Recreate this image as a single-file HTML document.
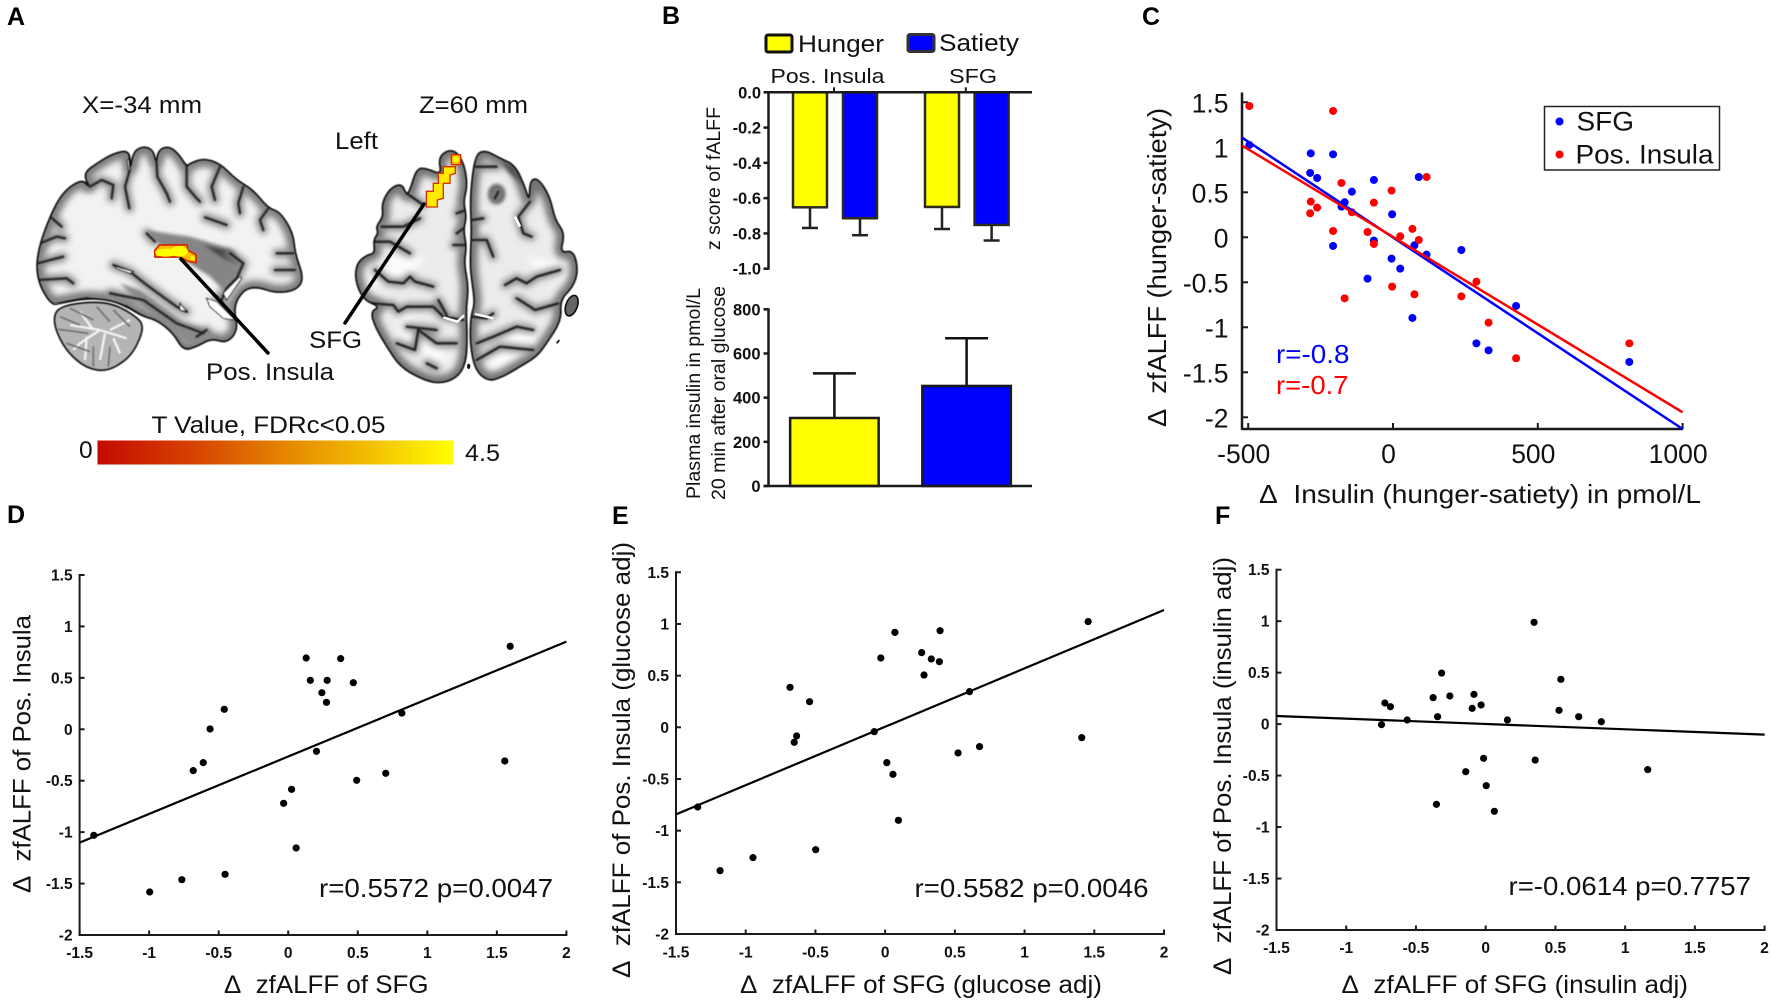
<!DOCTYPE html>
<html lang="en">
<head>
<meta charset="utf-8">
<title>Brain activation and insulin correlation figure</title>
<style>
html,body{margin:0;padding:0;background:#fff;width:1772px;height:1006px;overflow:hidden}
svg{display:block}
text{font-family:"Liberation Sans",Arial,sans-serif;fill:#111}
.pl{font-weight:bold;font-size:25px;fill:#000}
.a{font-size:24.5px}
.ti{font-size:25px}
.an{font-size:26px}
</style>
</head>
<body>
<svg id="fig" xmlns="http://www.w3.org/2000/svg" width="1772" height="1006" viewBox="0 0 1772 1006">
<defs>
<linearGradient id="heat" x1="0" x2="1" y1="0" y2="0">
<stop offset="0" stop-color="#c40a00"/><stop offset=".3" stop-color="#d84a00"/><stop offset=".55" stop-color="#e68c00"/><stop offset=".8" stop-color="#f4c800"/><stop offset="1" stop-color="#ffff00"/>
</linearGradient>
<filter id="b1" x="-10%" y="-10%" width="120%" height="120%"><feGaussianBlur stdDeviation="1.5"/></filter>
<filter id="b2" x="-10%" y="-10%" width="120%" height="120%"><feGaussianBlur stdDeviation="2.5"/></filter>
<filter id="b5" x="-40%" y="-40%" width="180%" height="180%"><feGaussianBlur stdDeviation="5"/></filter>
<filter id="b9" x="-20%" y="-20%" width="140%" height="140%"><feGaussianBlur stdDeviation="10"/></filter>

<polygon class="s" id="sagOutline" points="65,525 30,470 18,410 30,340 60,260 90,200 125,165 160,150 178,172 160,130 200,100 250,70 300,60 300,122 310,65 340,48 370,60 378,100 385,60 415,48 445,70 470,110 480,100 520,85 570,100 620,150 670,180 715,235 750,245 790,310 795,370 822,445 800,480 740,490 680,470 640,480 610,530 625,600 590,640 545,625 500,650 460,662 430,610 380,570 340,560 290,530 240,510 170,505 90,520"/>
<polygon class="s" id="cbOutline" points="70,560 90,530 170,515 250,520 320,560 342,590 320,650 290,690 230,725 170,715 115,670 80,610"/>
<polygon class="s" id="axLOutline" points="235,85 262,60 292,66 315,110 322,170 310,215 320,260 310,300 320,350 312,400 326,470 318,540 322,620 318,700 290,745 235,762 180,745 120,710 80,650 45,590 32,545 60,530 10,510 -15,450 -10,400 20,375 45,370 40,330 55,310 48,290 70,260 65,220 90,175 125,160 140,195 150,180 170,115 200,115 245,135"/>
<polygon class="s" id="axROutline" points="345,75 375,60 420,85 465,105 495,170 508,215 510,150 535,145 570,200 585,270 615,310 600,370 640,360 655,420 640,470 600,510 605,570 560,640 530,680 480,710 430,740 385,755 345,720 330,640 332,560 345,520 335,450 330,400 335,300 330,200"/>
<clipPath id="sagClip"><use href="#sagOutline"/></clipPath>
<clipPath id="cbClip"><use href="#cbOutline"/></clipPath>
<clipPath id="axLClip"><use href="#axLOutline"/></clipPath>
<clipPath id="axRClip"><use href="#axROutline"/></clipPath>

<g id="sagSulci" stroke-linejoin="round" stroke-linecap="round">
  <path d="M160,150 L180,170 L215,150 L250,165 L245,205"/>
  <path d="M300,65 L298,125 L285,170 L298,235"/>
  <path d="M378,70 L382,140 L410,190 L420,215"/>
  <path d="M470,105 L470,170 L500,205 L510,215"/>
  <path d="M570,110 L545,170 L555,210"/>
  <path d="M640,170 L625,220 L630,250"/>
  <path d="M715,235 L690,270 L700,300"/>
  <path d="M525,262 L590,285"/>
  <path d="M790,370 L740,370"/>
  <path d="M795,420 L735,420"/>
  <path d="M22,400 L100,380"/>
  <path d="M30,340 L80,320 L105,325"/>
  <path d="M25,450 L110,445 L130,460"/>
  <path d="M60,260 L95,290"/>
  <path d="M65,525 L170,505 L290,530 L345,565"/>
  <path d="M250,405 L300,425 L350,465 L440,530 L470,545"/>
  <path d="M240,490 L340,510 L440,580 L520,610"/>
  <path d="M500,620 L530,600"/>
  <path d="M350,310 L375,335"/>
  <path d="M600,370 L640,400 L620,445 L590,475 L575,510"/>
  <path d="M560,500 L610,560"/>
</g>
<g id="axSulci" stroke-linejoin="round" stroke-linecap="round">
  <path d="M65,290 L130,290 L180,265"/>
  <path d="M140,190 L190,225"/>
  <path d="M40,335 L90,335 L150,370"/>
  <path d="M45,420 L85,455 L130,460 L150,440 L165,455 L220,470"/>
  <path d="M30,520 L100,525 L115,545 L140,530 L220,530 L250,560 L310,570"/>
  <path d="M110,640 L165,660 L175,600 L230,640 L290,640"/>
  <path d="M140,590 L230,600"/>
  <path d="M200,700 L230,715"/>
  <path d="M235,510 L260,555"/>
  <path d="M318,240 L290,250"/>
  <path d="M318,290 L290,310"/>
  <path d="M318,345 L280,345"/>
  <path d="M345,110 L410,110"/>
  <path d="M415,185 L405,205"/>
  <path d="M510,215 L475,260 L490,310 L515,320"/>
  <path d="M335,270 L370,265"/>
  <path d="M335,330 L380,330 L400,380"/>
  <path d="M600,420 L530,440 L500,460 L470,445 L435,465"/>
  <path d="M470,505 L510,530 L525,540 L595,520"/>
  <path d="M335,560 L380,565 L400,550"/>
  <path d="M350,640 L400,620 L470,590 L520,600"/>
  <path d="M350,690 L420,650 L520,660"/>
</g>
</defs>
<rect x="0" y="0" width="1772" height="1006" fill="#fff"/>

<text class="pl" x="7" y="25">A</text>
<text class="pl" x="662" y="24">B</text>
<text class="pl" x="1142" y="25">C</text>
<text class="pl" x="7" y="523">D</text>
<text class="pl" x="612" y="524">E</text>
<text class="pl" x="1215" y="524">F</text>

<!-- Panel A -->
<g transform="translate(30,130) scale(.3333)">
  <use href="#cbOutline" fill="#b4b4b4"/>
  <g clip-path="url(#cbClip)">
    <g fill="none" stroke="#f4f4f4" stroke-width="7" filter="url(#b1)">
      <path d="M290,625 L210,600 L120,585"/><path d="M210,600 L150,640 L130,660"/><path d="M225,610 L210,690"/><path d="M240,600 L300,570"/><path d="M190,600 L150,545"/><path d="M250,625 L270,670"/><path d="M170,620 L165,690"/>
    </g>
    <g fill="none" stroke="#707070" stroke-width="5" filter="url(#b1)">
      <path d="M85,598 L175,610"/><path d="M120,535 L190,570"/><path d="M200,530 L240,575"/><path d="M110,640 L180,665"/><path d="M240,650 L235,710"/><path d="M90,560 L150,585"/><path d="M250,540 L300,590"/><path d="M190,650 L190,710"/>
    </g>
  </g>
  <use href="#cbOutline" fill="none" stroke="#111" stroke-width="5" filter="url(#b1)"/>
  <use href="#sagOutline" fill="#f2f2f2"/>
  <g clip-path="url(#sagClip)">
    <use href="#sagOutline" fill="none" stroke="#7c7c7c" stroke-width="44" filter="url(#b9)"/>
    <polygon points="345,300 480,320 600,355 640,400 620,450 590,490 540,440 470,395 395,350" fill="#858585" filter="url(#b5)"/>
    <polygon points="520,345 610,365 630,405 580,385" fill="#4a4a4a" filter="url(#b5)"/>
    <polygon points="270,460 330,480 460,580 540,600 570,640 470,640 420,590 340,530" fill="#8a8a8a" filter="url(#b5)"/>
    <use href="#sagSulci" fill="none" stroke="#888" stroke-width="26" filter="url(#b9)"/>
    <use href="#sagSulci" fill="none" stroke="#242424" stroke-width="7" filter="url(#b2)"/>
    <g fill="#fff" stroke="#222" stroke-width="3" filter="url(#b1)">
      <polygon points="530,505 560,515 615,570 580,565 540,530"/>
      <polygon points="258,410 310,425 300,430 258,415"/>
      <polygon points="450,520 470,545 450,540"/>
      <polygon points="580,490 630,440 635,445 590,510"/>
      <polygon points="292,90 298,90 300,122 296,122"/>
    </g>
    <polygon points="70,520 170,510 170,518 70,528" fill="#fff"/>
  </g>
  <use href="#sagOutline" fill="none" stroke="#111" stroke-width="5" filter="url(#b1)"/>
  <polygon points="388,345 472,345 472,360 498,374 498,398 475,394 450,381 375,381 374,362" fill="#ffbb00" stroke="#d42800" stroke-width="5"/>
  <ellipse cx="408" cy="368" rx="32" ry="12" fill="#ffff00"/><ellipse cx="448" cy="364" rx="26" ry="16" fill="#ffff00"/><ellipse cx="488" cy="385" rx="7" ry="7" fill="#ffee00"/>
</g>
<g transform="translate(360,130) scale(.3333)">
  <use href="#axLOutline" fill="#ececec"/>
  <use href="#axROutline" fill="#ececec"/>
  <g clip-path="url(#axLClip)">
    <polygon points="40,470 20,420 80,400 90,380 200,380 150,430" fill="#fcfcfc" filter="url(#b9)"/>
    <polygon points="130,540 220,620 270,700 200,680 110,610" fill="#fcfcfc" filter="url(#b9)"/>
    <use href="#axLOutline" fill="none" stroke="#747474" stroke-width="44" filter="url(#b9)"/>
    <use href="#axSulci" fill="none" stroke="#868686" stroke-width="24" filter="url(#b9)"/>
    <use href="#axSulci" fill="none" stroke="#1c1c1c" stroke-width="7" filter="url(#b2)"/>
  </g>
  <g clip-path="url(#axRClip)">
    <polygon points="500,380 610,400 620,450 540,440" fill="#fcfcfc" filter="url(#b9)"/>
    <polygon points="360,680 420,610 540,580 520,660 410,720" fill="#fcfcfc" filter="url(#b9)"/>
    <use href="#axROutline" fill="none" stroke="#747474" stroke-width="44" filter="url(#b9)"/>
    <ellipse cx="410" cy="192" rx="26" ry="30" fill="#666" filter="url(#b5)"/>
    <polygon points="420,90 470,110 495,170 450,130" fill="#555" filter="url(#b5)"/>
    <use href="#axSulci" fill="none" stroke="#868686" stroke-width="24" filter="url(#b9)"/>
    <use href="#axSulci" fill="none" stroke="#1c1c1c" stroke-width="7" filter="url(#b2)"/>
    <path d="M465,260 L480,290" fill="none" stroke="#fff" stroke-width="8"/>
    <path d="M345,552 L400,565" fill="none" stroke="#fff" stroke-width="7"/>
  </g>
  <use href="#axLOutline" fill="none" stroke="#0c0c0c" stroke-width="5" filter="url(#b1)"/>
  <use href="#axROutline" fill="none" stroke="#0c0c0c" stroke-width="5" filter="url(#b1)"/>
  <path d="M250,562 L292,575 L312,556" fill="none" stroke="#fff" stroke-width="7"/>
  <ellipse cx="635" cy="527" rx="17" ry="32" transform="rotate(20 635 527)" fill="#666" stroke="#111" stroke-width="5"/>
  <ellipse cx="326" cy="709" rx="5" ry="8" fill="#111"/>
  <path d="M590,640 L598,630" stroke="#111" stroke-width="5"/>
  <rect x="274" y="74" width="28" height="30" fill="#ffa800" stroke="#d83000" stroke-width="4"/>
  <circle cx="288" cy="88" r="10" fill="#ffff00"/>
  <polygon points="250,110 286,110 286,130 270,135 270,160 250,160 250,205 232,210 232,231 199,231 199,184 220,184 220,160 235,160 235,130 250,130" fill="#ffea00" stroke="#d83000" stroke-width="4"/>
</g>
<line x1="181" y1="259" x2="268" y2="353" stroke="#000" stroke-width="3.5" stroke-linecap="round"/>
<line x1="424" y1="204" x2="345" y2="323" stroke="#000" stroke-width="3.5" stroke-linecap="round"/>
<text class="a" x="82" y="113" textLength="120" lengthAdjust="spacingAndGlyphs">X=-34 mm</text>
<text class="a" x="419" y="113" textLength="109" lengthAdjust="spacingAndGlyphs">Z=60 mm</text>
<text class="a" x="335" y="149" textLength="43" lengthAdjust="spacingAndGlyphs">Left</text>
<text class="a" x="309" y="348" textLength="53" lengthAdjust="spacingAndGlyphs">SFG</text>
<text class="a" x="206" y="380" textLength="128" lengthAdjust="spacingAndGlyphs">Pos. Insula</text>
<text class="a" x="151.500" y="433" textLength="234" lengthAdjust="spacingAndGlyphs">T Value, FDRc&lt;0.05</text>
<rect x="97.500" y="440.500" width="356" height="24" fill="url(#heat)"/>
<text class="a" x="79" y="458">0</text>
<text class="a" x="465" y="461" textLength="35" lengthAdjust="spacingAndGlyphs">4.5</text>

<!-- Panel B static -->
<g>
  <rect x="766" y="35" width="26" height="17" rx="2" fill="#ffff00" stroke="#111" stroke-width="3"/>
  <text x="798" y="52" font-size="24.5" textLength="86" lengthAdjust="spacingAndGlyphs">Hunger</text>
</g>
<g>
  <rect x="908" y="34.500" width="26" height="17" rx="2" fill="#0000ff" stroke="#333" stroke-width="3"/>
  <text x="939" y="51" font-size="24.5" textLength="80" lengthAdjust="spacingAndGlyphs">Satiety</text>
</g>
<text x="770.500" y="83" font-size="20.500" textLength="114" lengthAdjust="spacingAndGlyphs">Pos. Insula</text>
<text x="949" y="83" font-size="20.500" textLength="48" lengthAdjust="spacingAndGlyphs">SFG</text>
<text transform="translate(720,250) rotate(-90)" font-size="19.500" textLength="143" lengthAdjust="spacingAndGlyphs">z score of fALFF</text>
<text transform="translate(700,499) rotate(-90)" font-size="19.500" textLength="211" lengthAdjust="spacingAndGlyphs">Plasma insulin in pmol/L</text>
<text transform="translate(725,500) rotate(-90)" font-size="19.500" textLength="214" lengthAdjust="spacingAndGlyphs">20 min after oral glucose</text>

<!-- Panel C static -->
<text class="ti" x="1259" y="503" style="font-size:26px" textLength="442" lengthAdjust="spacingAndGlyphs">Δ&#160;&#160;Insulin (hunger-satiety) in pmol/L</text>
<text class="ti" transform="translate(1166,427) rotate(-90)" style="font-size:26px" textLength="319" lengthAdjust="spacingAndGlyphs">Δ&#160;&#160;zfALFF (hunger-satiety)</text>
<text x="1276" y="363" font-size="26" textLength="73.500" lengthAdjust="spacingAndGlyphs" style="fill:#0000ff">r=-0.8</text>
<text x="1276" y="394" font-size="26" textLength="72.500" lengthAdjust="spacingAndGlyphs" style="fill:#ff0000">r=-0.7</text>

<!-- Panels D-F static -->
<text class="ti" x="224" y="993" textLength="204.500" lengthAdjust="spacingAndGlyphs">Δ&#160;&#160;zfALFF of SFG</text>
<text class="ti" transform="translate(30.500,893) rotate(-90)" textLength="278" lengthAdjust="spacingAndGlyphs">Δ&#160;&#160;zfALFF of Pos. Insula</text>
<text class="an" x="319" y="897" textLength="234" lengthAdjust="spacingAndGlyphs">r=0.5572 p=0.0047</text>
<text class="ti" x="740" y="993" textLength="362" lengthAdjust="spacingAndGlyphs">Δ&#160;&#160;zfALFF of SFG (glucose adj)</text>
<text class="ti" transform="translate(630,978) rotate(-90)" textLength="436" lengthAdjust="spacingAndGlyphs">Δ&#160;&#160;zfALFF of Pos. Insula (glucose adj)</text>
<text class="an" x="914.500" y="897" textLength="234" lengthAdjust="spacingAndGlyphs">r=0.5582 p=0.0046</text>
<text class="ti" x="1341.500" y="993" textLength="346.500" lengthAdjust="spacingAndGlyphs">Δ&#160;&#160;zfALFF of SFG (insulin adj)</text>
<text class="ti" transform="translate(1231,975) rotate(-90)" textLength="418" lengthAdjust="spacingAndGlyphs">Δ&#160;&#160;zfALFF of Pos. Insula (insulin adj)</text>
<text class="an" x="1508.500" y="895" textLength="242.500" lengthAdjust="spacingAndGlyphs">r=-0.0614 p=0.7757</text>

<g id="charts"></g>
</svg>

<script>
// Panel B – fALFF bars
const falffValues = [-0.652, -0.714, -0.65, -0.752];
const falffErrors = [0.117, 0.096, 0.125, 0.088];
const falffSeries = ['hunger', 'satiety', 'hunger', 'satiety'];
const falffTicks = [0, -0.2, -0.4, -0.6, -0.8, -1];
const falffTickLabels = ['0.0', '-0.2', '-0.4', '-0.6', '-0.8', '-1.0'];
// Panel B – insulin bars
const insulinValues = [308, 453];
const insulinErrors = [202, 216];
const insulinSeries = ['hunger', 'satiety'];
const insulinTicks = [0, 200, 400, 600, 800];
// Panel C
const cInsulin = [-496, -284, -286, -262, -207, -207, -178, -167, -142, -88, -66, -66, -5, -3, 25, 67, 74, 89, 116, 236, 288, 330, 425, 816];
const cSfg = [1.026, 0.933, 0.715, 0.659, 0.922, -0.096, 0.341, 0.389, 0.507, -0.459, 0.637, -0.037, -0.237, 0.256, -0.348, -0.896, -0.089, 0.67, -0.193, -0.141, -1.178, -1.256, -0.763, -1.385];
const cInsula = [1.459, 0.396, 0.267, 0.33, 1.404, 0.07, 0.604, -0.678, 0.278, 0.059, 0.385, -0.074, 0.519, -0.548, 0.011, 0.093, -0.633, -0.03, 0.67, -0.656, -0.493, -0.948, -1.344, -1.178];
const cFitX = [-521, 1000];
const cFitSfg = [1.107, -2.13];
const cFitInsula = [1.019, -1.944];
const cXTicks = [-500, 0, 500, 1000];
const cYTicks = [1.5, 1, 0.5, 0, -0.5, -1, -1.5, -2];
// Shared D–F axes
const scatterXTicks = [-1.5, -1, -0.5, 0, 0.5, 1, 1.5, 2];
const scatterYTicks = [1.5, 1, 0.5, 0, -0.5, -1, -1.5, -2];
// Panel D
const dX = [-1.398, -0.996, -0.765, -0.454, -0.683, -0.611, -0.562, -0.46, -0.033, 0.024, 0.057, 0.203, 0.129, 0.159, 0.28, 0.242, 0.275, 0.377, 0.468, 0.492, 0.701, 0.817, 1.557, 1.596];
const dY = [-1.031, -1.582, -1.462, -1.41, -0.402, -0.324, 0.003, 0.194, -0.72, -0.584, -1.154, -0.214, 0.693, 0.476, 0.476, 0.356, 0.262, 0.687, 0.453, -0.496, -0.428, 0.158, -0.308, 0.807];
const dFitX = [-1.5, 2];
const dFitY = [-1.102, 0.852];
// Panel E
const eX = [-1.344, -1.184, -0.948, -0.498, -0.682, -0.542, -0.635, -0.652, -0.078, -0.031, 0.07, 0.012, 0.056, 0.095, 0.262, 0.331, 0.389, 0.394, 0.279, 0.523, 0.605, 0.677, 1.41, 1.456];
const eY = [-0.771, -1.387, -1.261, -1.184, 0.387, 0.248, -0.084, -0.145, -0.042, 0.671, 0.919, -0.342, -0.455, -0.9, 0.723, 0.661, 0.635, 0.935, 0.506, -0.248, 0.345, -0.187, -0.1, 1.023];
const eFitX = [-1.5, 2];
const eFitY = [-0.842, 1.135];
// Panel F
const fX = [-0.747, -0.723, -0.683, -0.563, -0.377, -0.345, -0.316, -0.257, -0.353, -0.143, -0.097, -0.084, -0.033, -0.015, 0.004, 0.062, 0.156, 0.347, 0.355, 0.526, 0.539, 0.667, 0.829, 1.162];
const fY = [-0.005, 0.205, 0.169, 0.04, 0.257, 0.072, 0.496, 0.273, -0.779, -0.462, 0.153, 0.289, 0.186, -0.332, -0.598, -0.847, 0.04, 0.989, -0.349, 0.134, 0.435, 0.072, 0.023, -0.442];
const fFitX = [-1.5, 2];
const fFitY = [0.079, -0.102];

const NS = 'http://www.w3.org/2000/svg';
const root = document.getElementById('charts');
const AXIS = '#1a1a1a';
const seriesFill = { hunger: '#ffff00', satiety: '#0000ff' };

// Round the corners of the anatomical outlines
document.querySelectorAll('polygon.s').forEach(p => {
  const pts = p.getAttribute('points').trim().split(/\s+/).map(s => s.split(',').map(Number));
  const mid = (a, b) => ((a[0] + b[0]) / 2) + ',' + ((a[1] + b[1]) / 2);
  const n = pts.length;
  let d = 'M' + mid(pts[n - 1], pts[0]);
  for (let i = 0; i < n; i++) {
    d += ' Q' + pts[i][0] + ',' + pts[i][1] + ' ' + mid(pts[i], pts[(i + 1) % n]);
  }
  const path = document.createElementNS(NS, 'path');
  path.setAttribute('id', p.getAttribute('id'));
  path.setAttribute('d', d + ' Z');
  p.parentNode.replaceChild(path, p);
});

function make(tag, attrs, parent) {
  const node = document.createElementNS(NS, tag);
  for (const k in attrs) node.setAttribute(k, attrs[k]);
  (parent || root).appendChild(node);
  return node;
}
function linear(d0, d1, r0, r1) {
  return v => r0 + (v - d0) * (r1 - r0) / (d1 - d0);
}
function seg(x1, y1, x2, y2, w, color, name, parent) {
  const el = make('line', { x1, y1, x2, y2, stroke: color || AXIS, 'stroke-width': w }, parent);
  
  
  return el;
}
function label(str, x, y, size, anchor, bold, name, parent) {
  const el = make('text', { x, y, 'font-size': size, 'text-anchor': anchor, 'font-weight': bold ? 'bold' : 'normal' }, parent);
  el.textContent = str;
  
  
  return el;
}
function dot(cx, cy, r, color, name, parent) {
  const el = make('circle', { cx, cy, r, fill: color }, parent);
  
  
  return el;
}

/* Panel B top */
(function () {
  const g = make('g', {});
  
  
  const y = linear(0, -1, 92.3, 268.7);
  const left = 768.5, right = 1032;
  const barCenters = [810, 860, 942, 991.6];
  const barW = 34;
  falffValues.forEach((v, i) => {
    const cx = barCenters[i];
    const err = v - falffErrors[i];
    seg(cx, y(v), cx, y(err), 2.5, '#222', 'falff-error-bar', g);
    seg(cx - 8, y(err), cx + 8, y(err), 2.5, '#222', 'falff-error-cap', g);
    const bar = make('rect', { x: cx - barW / 2, y: y(0), width: barW, height: y(v) - y(0), fill: seriesFill[falffSeries[i]], stroke: '#2c2a1a', 'stroke-width': 2.5 }, g);
    
    
  });
  seg(left, y(0) - 1, left, y(-1) + 1, 2.5, AXIS, 'falff-y-axis', g);
  seg(left - 4, y(0), right, y(0), 2.5, AXIS, 'falff-zero-line', g);
  seg(834, y(0), 834, y(0) - 5, 2, AXIS, 'falff-group-tick', g);
  seg(965.8, y(0), 965.8, y(0) - 5, 2, AXIS, 'falff-group-tick', g);
  falffTicks.forEach((t, i) => {
    seg(left - 5, y(t), left, y(t), 2.5, AXIS, 'falff-y-tick', g);
    label(falffTickLabels[i], 761, y(t) + 6, 16.5, 'end', true, 'falff-y-tick-label', g);
  });
})();

/* Panel B bottom */
(function () {
  const g = make('g', {});
  
  
  const y = linear(0, 800, 486, 309.3);
  const left = 768.5, right = 1032;
  const barCenters = [834.4, 966.6];
  const barW = 88.5;
  insulinValues.forEach((v, i) => {
    const cx = barCenters[i];
    const top = v + insulinErrors[i];
    seg(cx, y(v), cx, y(top), 2.5, '#111', 'insulin-error-bar', g);
    seg(cx - 21.5, y(top), cx + 21.5, y(top), 2.5, '#111', 'insulin-error-cap', g);
    const bar = make('rect', { x: cx - barW / 2, y: y(v), width: barW, height: y(0) - y(v), fill: seriesFill[insulinSeries[i]], stroke: '#1a1a1a', 'stroke-width': 2.5 }, g);
    
    
  });
  seg(left, y(800) - 1, left, y(0) + 1, 2.5, AXIS, 'insulin-y-axis', g);
  seg(left - 5, y(0), right, y(0), 2.5, AXIS, 'insulin-x-axis', g);
  insulinTicks.forEach(t => {
    seg(left - 5, y(t), left, y(t), 2.5, AXIS, 'insulin-y-tick', g);
    label(String(t), 760.5, y(t) + 6, 16.5, 'end', true, 'insulin-y-tick-label', g);
  });
})();

/* Panel C */
(function () {
  const g = make('g', {});
  
  
  const x = linear(0, 500, 1393, 1537.8);
  const y = linear(0, 1, 237.3, 147.3);
  const left = 1242, bottom = 429, top = 92.5, right = 1683;
  seg(left, top, left, bottom + 1, 2.5, AXIS, 'c-y-axis', g);
  seg(left, bottom, right, bottom, 2.5, AXIS, 'c-x-axis', g);
  cXTicks.forEach(t => {
    seg(x(t), bottom, x(t), bottom - 6, 2, AXIS, 'c-x-tick', g);
    label(String(t), x(t) - 4.5, 463, 26.5, 'middle', false, 'c-x-tick-label', g);
  });
  cYTicks.forEach(t => {
    seg(left, y(t), left + 6, y(t), 2, AXIS, 'c-y-tick', g);
    label(String(t), 1228.5, y(t) + 10, 26.5, 'end', false, 'c-y-tick-label', g);
  });
  cInsulin.forEach((v, i) => { dot(x(v), y(cSfg[i]), 4, '#0000ff', 'sfg-point', g); });
  cInsulin.forEach((v, i) => { dot(x(v), y(cInsula[i]), 4, '#ff0000', 'pos-insula-point', g); });
  seg(x(cFitX[0]), y(cFitSfg[0]), x(cFitX[1]), y(cFitSfg[1]), 2.5, '#0000ff', 'sfg-fit-line', g);
  seg(x(cFitX[0]), y(cFitInsula[0]), x(cFitX[1]), y(cFitInsula[1]), 2.5, '#ff0000', 'pos-insula-fit-line', g);

  const lg = make('g', {}, g);
  
  
  const box = make('rect', { x: 1544.5, y: 106.5, width: 175, height: 63.5, fill: '#fff', stroke: '#222', 'stroke-width': 1.5 }, lg);
  
  
  dot(1559.5, 121.5, 4, '#0000ff', 'c-legend-marker-sfg', lg);
  dot(1559.5, 154.5, 4, '#ff0000', 'c-legend-marker-insula', lg);
  const t1 = label('SFG', 1576.5, 130.5, 26.5, 'start', false, 'c-legend-label-sfg', lg);
  t1.setAttribute('textLength', '57.5');
  t1.setAttribute('lengthAdjust', 'spacingAndGlyphs');
  const t2 = label('Pos. Insula', 1575.5, 163.5, 26.5, 'start', false, 'c-legend-label-insula', lg);
  t2.setAttribute('textLength', '138');
  t2.setAttribute('lengthAdjust', 'spacingAndGlyphs');
})();

/* Panels D, E, F */
function scatter(name, box, xs, ys, fitX, fitY, baselineX) {
  const g = make('g', {});
  
  
  const x = linear(-1.5, 2, box.l, box.r);
  const y = linear(1.5, -2, box.t, box.b);
  seg(box.l, box.t - 1, box.l, box.b + 1, 2, AXIS, name + '-y-axis', g);
  seg(box.l - 1, box.b, box.r + 1, box.b, 2, AXIS, name + '-x-axis', g);
  scatterXTicks.forEach(t => {
    seg(x(t), box.b, x(t), box.b - 4.5, 2, AXIS, name + '-x-tick', g);
    label(String(t), x(t), baselineX, 15.5, 'middle', true, name + '-x-tick-label', g);
  });
  scatterYTicks.forEach(t => {
    seg(box.l, y(t), box.l + 5, y(t), 2, AXIS, name + '-y-tick', g);
    label(String(t), box.l - 7, y(t) + 5.5, 15.5, 'end', true, name + '-y-tick-label', g);
  });
  seg(x(fitX[0]), y(fitY[0]), x(fitX[1]), y(fitY[1]), 2.2, '#000', name + '-fit-line', g);
  xs.forEach((v, i) => { dot(x(v), y(ys[i]), 3.6, '#000', name + '-point', g); });
}
scatter('d', { l: 79.6, r: 566.4, t: 575, b: 935 }, dX, dY, dFitX, dFitY, 958);
scatter('e', { l: 676, r: 1164, t: 572.3, b: 934 }, eX, eY, eFitX, eFitY, 957.5);
scatter('f', { l: 1276.5, r: 1764.6, t: 569.7, b: 930 }, fX, fY, fFitX, fFitY, 953);
</script>
</body>
</html>
